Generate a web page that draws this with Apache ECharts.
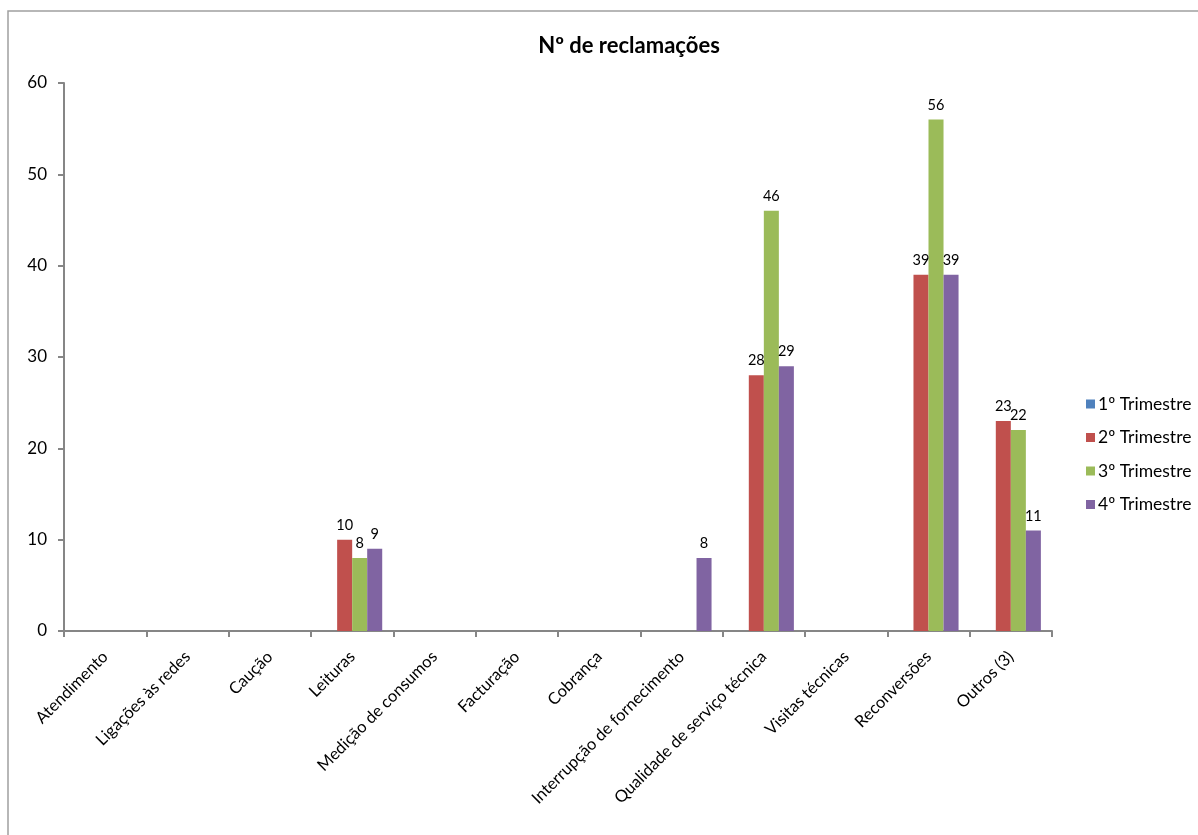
<!DOCTYPE html>
<html>
<head>
<meta charset="utf-8">
<title>Nº de reclamações</title>
<script src="https://cdn.jsdelivr.net/npm/echarts@6/dist/echarts.min.js"></script>
<style>
  html, body { margin: 0; padding: 0; background: #ffffff; }
  #chart { width: 1198px; height: 835px; }
</style>
</head>
<body>
<div id="chart"></div>
<script>
// Complaint categories shown along the x axis
const categories = [
  'Atendimento',
  'Ligações às redes',
  'Caução',
  'Leituras',
  'Medição de consumos',
  'Facturação',
  'Cobrança',
  'Interrupção de fornecimento',
  'Qualidade de serviço técnica',
  'Visitas técnicas',
  'Reconversões',
  'Outros (3)'
];

// Number of complaints per quarter (null = no complaints recorded)
const trimestre1 = [null, null, null, null, null, null, null, null, null, null, null, null];
const trimestre2 = [null, null, null, 10, null, null, null, null, 28, null, 39, 23];
const trimestre3 = [null, null, null, 8, null, null, null, null, 46, null, 56, 22];
const trimestre4 = [null, null, null, 9, null, null, null, 8, 29, null, 39, 11];

const seriesNames = ['1º Trimestre', '2º Trimestre', '3º Trimestre', '4º Trimestre'];
const seriesColors = ['#4f81bd', '#c0504d', '#9bbb59', '#8064a2'];
const seriesData = [trimestre1, trimestre2, trimestre3, trimestre4];

const yTicks = { min: 0, max: 60, interval: 10 };

const FONT = 'Lato, "Open Sans", sans-serif';

const chart = echarts.init(document.getElementById('chart'), null, { renderer: 'canvas' });

chart.setOption({
  backgroundColor: '#ffffff',
  animation: false,
  textStyle: { fontFamily: FONT },
  title: {
    text: 'Nº de reclamações',
    left: 624,
    top: 30,
    textAlign: 'center',
    textStyle: { fontFamily: FONT, fontSize: 22, fontWeight: 'bold', color: '#000000' }
  },
  graphic: [{
    type: 'rect',
    shape: { x: 8, y: 11, width: 1200, height: 840 },
    style: { fill: 'none', stroke: '#a0a0a0', lineWidth: 1.5 },
    silent: true,
    z: -1
  }],
  legend: {
    orient: 'vertical',
    left: 1081,
    top: 390,
    itemWidth: 9,
    itemHeight: 9,
    itemGap: 15.5,
    icon: 'rect',
    data: seriesNames,
    textStyle: { fontFamily: FONT, fontSize: 17.5, color: '#000000', padding: [0, 0, 0, -2] }
  },
  grid: {
    left: 64,
    right: 146,
    top: 83,
    bottom: 204,
    containLabel: false
  },
  xAxis: {
    type: 'category',
    data: categories,
    boundaryGap: true,
    axisLine: { show: true, lineStyle: { color: '#868686', width: 2 } },
    axisTick: { show: true, length: 6, lineStyle: { color: '#868686', width: 2 } },
    axisLabel: {
      interval: 0,
      rotate: 45,
      margin: 23,
      fontFamily: FONT,
      fontSize: 16.5,
      color: '#000000'
    },
    splitLine: { show: false }
  },
  yAxis: {
    type: 'value',
    min: yTicks.min,
    max: yTicks.max,
    interval: yTicks.interval,
    axisLine: { show: true, lineStyle: { color: '#868686', width: 2 } },
    axisTick: { show: true, length: 6, lineStyle: { color: '#868686', width: 2 } },
    axisLabel: { margin: 17, fontFamily: FONT, fontSize: 17, color: '#000000' },
    splitLine: { show: false }
  },
  series: seriesNames.map((name, i) => ({
    name: name,
    type: 'bar',
    data: seriesData[i],
    barGap: '0%',
    barCategoryGap: '27%',
    itemStyle: { color: seriesColors[i] },
    label: {
      show: true,
      position: 'top',
      distance: 7,
      fontFamily: FONT,
      fontSize: 14.5,
      color: '#000000'
    }
  }))
});
</script>
</body>
</html>
